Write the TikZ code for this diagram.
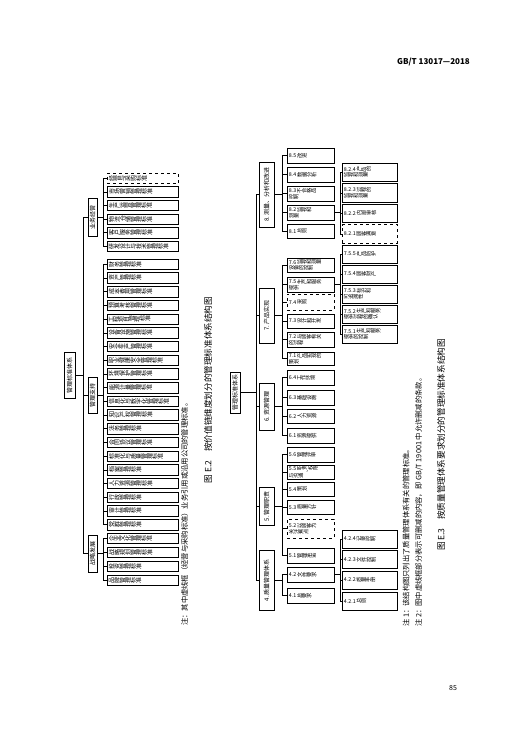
\documentclass[tikz,border=0pt]{standalone}
\usepackage{fontspec}
\setmainfont{Noto Sans CJK SC}
\usepackage{graphicx}
\makeatletter
\newcommand\rt[1]{\rt@i#1\@nil}
\def\rt@i#1{\ifx\@nil#1\else\rotatebox[origin=c]{90}{#1}\expandafter\rt@i\fi}
\makeatother
\tikzset{
  bx/.style={draw, line width=0.5pt, inner sep=0pt},
  lbl/.style={inner sep=0pt, align=left},
  cl/.style={line width=0.4pt},
  vnote/.style={rotate=90, anchor=west, inner sep=0pt, font=\fontsize{7.3}{8}\selectfont},
  vcap/.style={rotate=90, inner sep=0pt, font=\fontsize{8.6}{9}\selectfont},
}
% centred text box
\newcommand\BC[7][]{\node[bx,#1,minimum width={(#4-#2)*1pt},minimum height={(#5-#3)*1pt},font=\fontsize{6}{6.5}\selectfont] (#6) at ({(#2+#4)/2},{(#3+#5)/2}) {#7};}
% box with left aligned text
\newcommand\BL[8][]{\node[bx,#1,minimum width={(#4-#2)*1pt},minimum height={(#5-#3)*1pt}] (#6) at ({(#2+#4)/2},{(#3+#5)/2}) {};
  \node[lbl,anchor=west,font=#8] (#6t) at ([xshift=2pt]#6.west) {#7};}
\newcommand\TC[4][]{\BL[#1]{107}{#3}{178}{#3+10.5}{#2}{\rt{#4}}{\fontsize{6}{6.5}\selectfont}}
\newcommand\MC[5][]{\BL[#1]{287}{#3}{334}{#4}{#2}{#5}{\fontsize{5.3}{6}\selectfont}}
\newcommand\SC[5][]{\BL[#1]{342}{#3}{397}{#4}{#2}{#5}{\fontsize{5.3}{6}\selectfont}}
\begin{document}
\begin{tikzpicture}[x=1pt,y=-1pt]
\fill[white] (0,0) rectangle (522,740);
\useasboundingbox (0,0) rectangle (522,740);

% header and page number
\node[anchor=east, inner sep=0pt, font=\bfseries\fontsize{8}{9}\selectfont] (hdr) at (470,62) {GB/T 13017—2018};
\node[inner sep=0pt, font=\fontsize{7}{8}\selectfont] (pgno) at (453,688) {85};

% ================= Figure E.2 =================
\BC{64}{352}{75}{398}{R1}{\rotatebox{90}{管理标准体系}}
\BC{88}{198}{97}{236}{A}{\rotatebox{90}{业务经营}}
\BC{88}{377}{97}{413}{B}{\rotatebox{90}{管理支持}}
\BC{88}{535}{97}{572}{C}{\rotatebox{90}{战略发展}}

\TC[dashed]{a1}{173}{经营与采购标准}
\TC{a2}{186.6}{市场营销管理标准}
\TC{a3}{200.2}{生产运营管理标准}
\TC{a4}{213.8}{物流仓储管理标准}
\TC{a5}{227.4}{客户服务管理标准}
\TC{a6}{241}{研发设计与技术管理标准}

\TC{b1}{259}{财务管理标准}
\TC{b2}{272.7}{资产管理标准}
\TC{b3}{286.4}{成本费用管理标准}
\TC{b4}{300.1}{预算考核管理标准}
\TC{b5}{313.8}{工程项目管理标准}
\TC{b6}{327.5}{设备设施管理标准}
\TC{b7}{341.2}{安全生产管理标准}
\TC{b8}{354.9}{职业健康安全管理标准}
\TC{b9}{368.6}{环境保护管理标准}
\TC{b10}{382.3}{能源计量管理标准}
\TC{b11}{396}{信息化与数字化管理标准}
\TC{b12}{409.7}{知识产权管理标准}
\TC{b13}{423.4}{法务管理标准}
\TC{b14}{437.1}{合同协议管理标准}
\TC{b15}{450.8}{标准化与质量管理标准}
\TC{b16}{464.5}{档案管理标准}
\TC{b17}{478.2}{人力资源管理标准}
\TC{b18}{491.9}{行政管理标准}
\TC{b19}{505.6}{审计管理标准}
\TC{b20}{519.3}{党群管理标准}

\TC{c1}{533}{企业文化管理标准}
\TC{c2}{547}{战略规划管理标准}
\TC{c3}{561}{投资管理标准}
\TC{c4}{575}{品牌管理标准}

\foreach \c in {A,B,C} \draw[cl] (R1.east) -- ++(8,0) |- (\c.west);
\foreach \c in {a1,a2,a3,a4,a5,a6} \draw[cl] (A.east) -- ++(5.5,0) |- (\c.west);
\foreach \c in {b1,b2,b3,b4,b5,b6,b7,b8,b9,b10,b11,b12,b13,b14,b15,b16,b17,b18,b19,b20} \draw[cl] (B.east) -- ++(5.5,0) |- (\c.west);
\foreach \c in {c1,c2,c3,c4} \draw[cl] (C.east) -- ++(5.5,0) |- (\c.west);

\node[vnote] (note2) at (184.5,626) {注：其中虚线框（经营与采购标准）业务引用或沿用公司的管理标准。};
\node[vcap] (cap2) at (208,390) {图 E.2\quad 按价值链维度划分的管理标准体系结构图};

% ================= Figure E.3 =================
\BC{230}{372}{240}{413}{R2}{\rotatebox{90}{管理标准体系}}
\BC{259}{162}{274}{227}{L8}{\rotatebox{90}{8.\,测量、分析和改进}}
\BC{259}{288}{274}{343}{L7}{\rotatebox{90}{7.\,产品实现}}
\BC{259}{383}{274}{430}{L6}{\rotatebox{90}{6.\,资源管理}}
\BC{259}{487}{274}{525}{L5}{\rotatebox{90}{5.\,管理职责}}
\BC{259}{550}{274}{610}{L4}{\rotatebox{90}{4.\,质量管理体系}}

% level 2
\MC{m85}{148}{163}{8.5\,\rt{改进}}
\MC{m84}{167}{182}{8.4\,\rt{数据分析}}
\MC{m83}{186}{201}{8.3\,\rt{不合格品}\\\rt{控制}}
\MC{m82}{205}{220}{8.2\,\rt{监视和}\\\rt{测量}}
\MC{m81}{224}{238}{8.1\,\rt{总则}}

\MC{m76}{258}{272}{7.6\,\rt{监视和测量}\\\rt{设备的控制}}
\MC{m75}{277}{292}{7.5\,\rt{生产和服务}\\\rt{提供}}
\MC[dashed]{m74}{294}{310}{7.4\,\rt{采购}}
\MC{m73}{314}{328}{7.3\,\rt{设计和开发}}
\MC{m72}{332}{347}{7.2\,\rt{与顾客有关}\\\rt{的过程}}
\MC{m71}{352}{365}{7.1\,\rt{产品实现的}\\\rt{策划}}

\MC{m64}{370}{385}{6.4\,\rt{工作环境}}
\MC{m63}{390}{405}{6.3\,\rt{基础设施}}
\MC{m62}{409}{423}{6.2\,\rt{人力资源}}
\MC{m61}{428}{443}{6.1\,\rt{资源提供}}

\MC{m56}{447}{462}{5.6\,\rt{管理评审}}
\MC{m55}{465}{479}{5.5\,\rt{职责、权限}\\\rt{与沟通}}
\MC{m54}{482}{496}{5.4\,\rt{策划}}
\MC{m53}{500}{514}{5.3\,\rt{质量方针}}
\MC[dashed]{m52}{519}{538}{5.2\,\rt{以顾客为}\\\rt{关注焦点}}
\MC{m51}{548}{563}{5.1\,\rt{管理承诺}}

\MC{m42}{567}{582}{4.2\,\rt{文件要求}}
\MC{m41}{588}{603}{4.1\,\rt{总要求}}

% level 3
\SC{s824}{163}{181.5}{8.2.4\,\rt{产品的}\\\rt{监视和测量}}
\SC{s823}{183.5}{202}{8.2.3\,\rt{过程的}\\\rt{监视和测量}}
\SC{s822}{204}{222.5}{8.2.2\,\rt{内部审核}}
\SC[dashed]{s821}{224.5}{243}{8.2.1\,\rt{顾客满意}}

\SC{s755}{245}{263}{7.5.5\,\rt{产品防护}}
\SC{s754}{265}{283}{7.5.4\,\rt{顾客财产}}
\SC{s753}{285}{303}{7.5.3\,\rt{标识和}\\\rt{可追溯性}}
\SC{s752}{305}{323}{7.5.2\,\rt{生产和服务}\\\rt{提供过程的确认}}
\SC{s751}{325}{343}{7.5.1\,\rt{生产和服务}\\\rt{提供的控制}}

\SC{s424}{530}{548}{4.2.4\,\rt{记录控制}}
\SC{s423}{550.5}{568.5}{4.2.3\,\rt{文件控制}}
\SC{s422}{571}{589}{4.2.2\,\rt{质量手册}}
\SC{s421}{592}{610}{4.2.1\,\rt{总则}}

% connectors
\foreach \c in {L4,L5,L6,L7,L8} \draw[cl] (R2.east) -- ++(16,0) |- (\c.west);
\foreach \c in {m81,m82,m83,m84,m85} \draw[cl] (L8.east) -- ++(8,0) |- (\c.west);
\foreach \c in {m71,m72,m73,m74,m75,m76} \draw[cl] (L7.east) -- ++(8,0) |- (\c.west);
\foreach \c in {m61,m62,m63,m64} \draw[cl] (L6.east) -- ++(8,0) |- (\c.west);
\foreach \c in {m51,m52,m53,m54,m55,m56} \draw[cl] (L5.east) -- ++(8,0) |- (\c.west);
\foreach \c in {m41,m42} \draw[cl] (L4.east) -- ++(8,0) |- (\c.west);
\foreach \c in {s821,s822,s823,s824} \draw[cl] (m82.east) -- ++(5.5,0) |- (\c.west);
\foreach \c in {s751,s752,s753,s754,s755} \draw[cl] (m75.east) -- ++(5.5,0) |- (\c.west);
\foreach \c in {s421,s422,s423,s424} \draw[cl] (m42.east) -- ++(5.5,0) |- (\c.west);

\node[vnote] (note31) at (406,627) {注 1：该结构图只列出了质量管理体系有关的管理标准。};
\node[vnote] (note32) at (419,627) {注 2：图中虚线框部分表示可删减的内容，即 GB/T 19001 中允许删减的条款。};
\node[vcap] (cap3) at (441,445) {图 E.3\quad 按质量管理体系要求划分的管理标准体系结构图};
\end{tikzpicture}
\end{document}
